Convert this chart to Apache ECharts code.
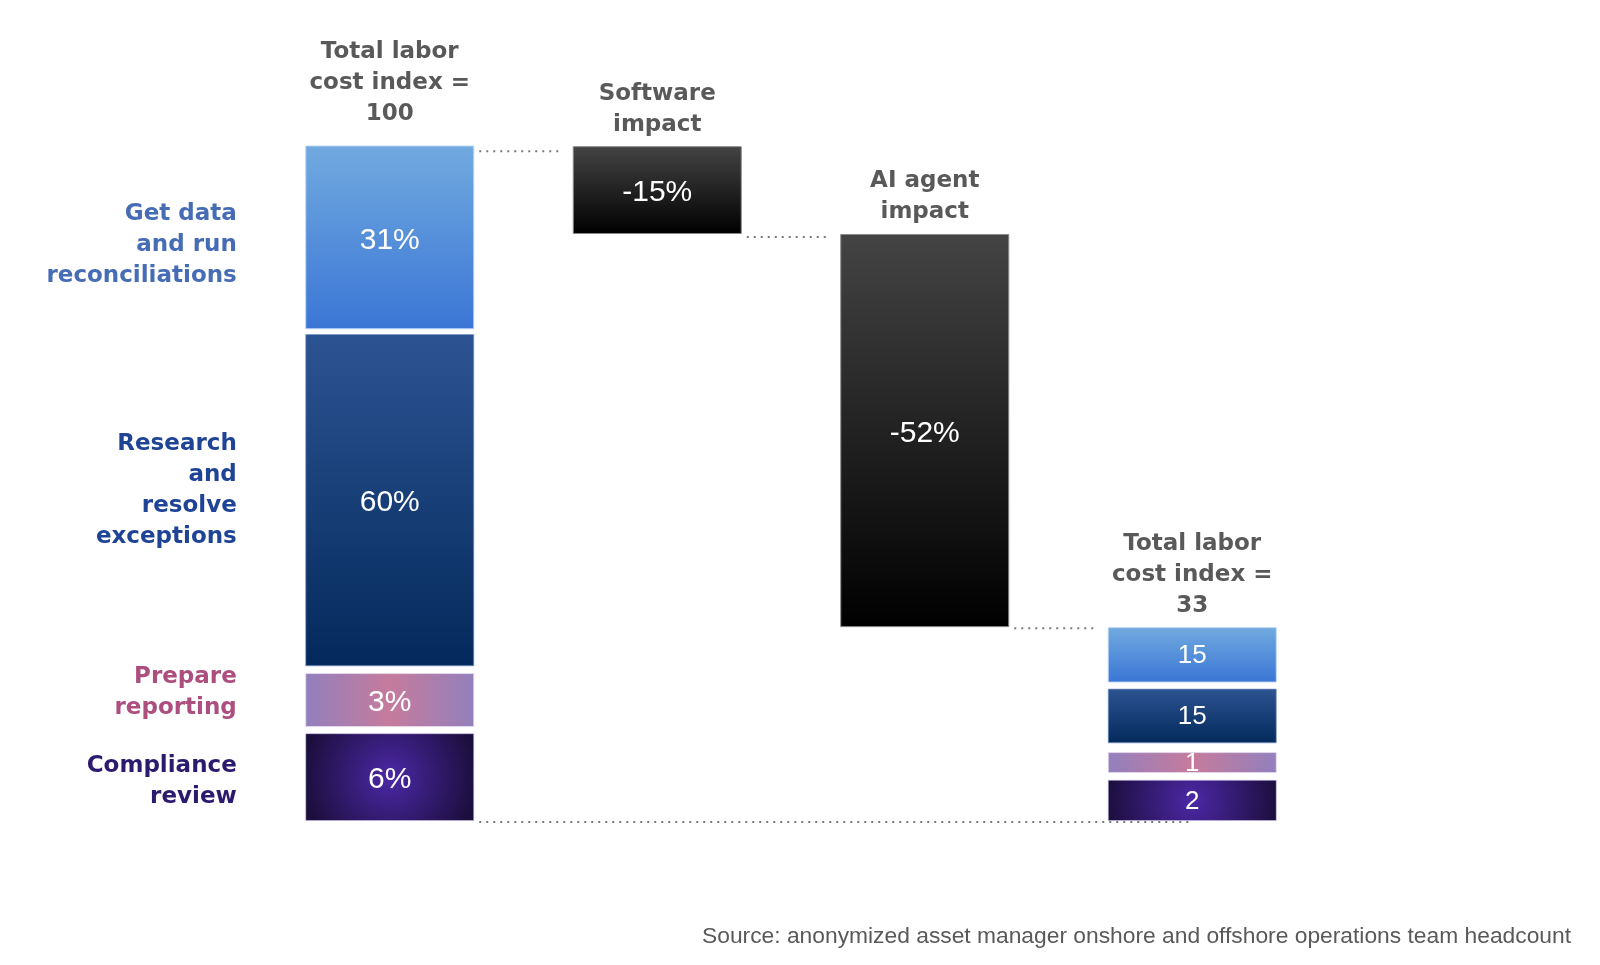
<!DOCTYPE html>
<html>
<head>
<meta charset="utf-8">
<title>Labor cost index waterfall</title>
<script src="https://cdn.jsdelivr.net/npm/echarts@6/dist/echarts.min.js"></script>
<style>
    html, body { margin: 0; padding: 0; background: #fff; }
    #chart { width: 1600px; height: 965px; }
</style>
</head>
<body>
<div id="chart"></div>
<script>
// column headers
var headers = ['Total labor\ncost index =\n100', 'Software\nimpact', 'AI agent\nimpact', 'Total labor\ncost index =\n33'];

// drawn extents, in index units (first column = 100)
var base       = [0, 86.9, 28.7, 0];
var compliance = [13.0, '-', '-', 6.1];
var gapA       = [0.9, '-', '-', 1.0];
var reporting  = [8.0, '-', '-', 3.1];
var gapB       = [1.0, '-', '-', 1.3];
var research   = [49.2, '-', '-', 8.1];
var gapC       = [0.7, '-', '-', 0.9];
var getData    = [27.2, '-', '-', 8.2];
var impact     = ['-', 13.0, 58.2, '-'];

// printed labels
var complianceLbl = ['6%', '', '', '2'];
var reportingLbl  = ['3%', '', '', '1'];
var researchLbl   = ['60%', '', '', '15'];
var getDataLbl    = ['31%', '', '', '15'];
var impactLbl     = ['', '-15%', '-52%', ''];

// left side segment names
var segNames = ['Compliance\nreview', 'Prepare\nreporting', 'Research\nand\nresolve\nexceptions', 'Get data\nand run\nreconciliations'];

// dotted connectors: [from column, to column, level]
var connectors = [[0, 1, 99.3], [1, 2, 86.6], [2, 3, 28.7], [0, 3, 0]];

var sourceText = 'Source: anonymized asset manager onshore and offshore operations team headcount';

var barW = 169;
var headFont = '"DejaVu Sans", Inter, sans-serif';
var numFont = '"Liberation Sans", Arial, sans-serif';

var chart = echarts.init(document.getElementById('chart'));

function vgrad(top, bottom) {
    return {type: 'linear', x: 0, y: 0, x2: 0, y2: 1, colorStops: [{offset: 0, color: top}, {offset: 1, color: bottom}]};
}
var colGetData = vgrad('#71aadf', '#3b76d6');
var colResearch = vgrad('#2d5492', '#03295c');
var colReporting = {type: 'linear', x: 0, y: 0, x2: 1, y2: 0, colorStops: [
    {offset: 0, color: '#9280bd'}, {offset: 0.5, color: '#c67b9c'}, {offset: 1, color: '#9280bd'}]};
function radial(r) {
    return {type: 'radial', x: 0.5, y: 0.5, r: r, colorStops: [
        {offset: 0, color: '#4c28a6'}, {offset: 1, color: '#1b0e3c'}]};
}
var colImpact = vgrad('#444444', '#000000');

function segSeries(name, vals, lbls, color, border) {
    return {
        name: name,
        type: 'bar',
        stack: 'total',
        barWidth: barW,
        data: vals.map(function (v, i) {
            var item = {value: v};
            if (i === 3) item.label = {fontSize: 26, offset: [0, 1]};
            if (name === 'compliance') item.itemStyle = {color: radial(i === 3 ? 2.1 : 1.0)};
            return item;
        }),
        itemStyle: {color: color, borderColor: border, borderWidth: 1},
        label: {
            show: true,
            position: 'inside',
            color: '#fff',
            fontFamily: numFont,
            fontSize: 30,
            offset: [0, 3],
            formatter: function (p) { return lbls[p.dataIndex]; }
        },
        emphasis: {disabled: true},
        z: 3
    };
}
function gapSeries(name, vals) {
    return {name: name, type: 'bar', stack: 'total', barWidth: barW, data: vals,
        itemStyle: {color: 'transparent'}, emphasis: {disabled: true}, silent: true};
}

// centers of the first column's segments for the side names
var segVals = [compliance[0], gapA[0], reporting[0], gapB[0], research[0], gapC[0], getData[0]];
var sideColors = ['#2c1a6e', '#ad4f7e', '#1f4496', '#456cb4'];
var sideShift = [4, -8, -10, 8];
var sideData = [];
var acc = 0;
for (var k = 0; k < segVals.length; k++) {
    if (k % 2 === 0) {
        sideData.push({value: [0, acc + segVals[k] / 2],
            label: {color: sideColors[k / 2], offset: [0, sideShift[k / 2]]}});
    }
    acc += segVals[k];
}

// column tops for the headers
var tops = [];
for (var j = 0; j < headers.length; j++) {
    var t = 0;
    [base, compliance, gapA, reporting, gapB, research, gapC, getData, impact].forEach(function (arr) {
        if (arr[j] !== '-') t += arr[j];
    });
    tops.push({value: [j, t], label: {distance: j === 0 ? 16 : 6}});
}

var option = {
    animation: false,
    grid: {left: 256, right: 274, top: 145.5, bottom: 144},
    xAxis: {type: 'category', data: headers, show: false},
    yAxis: {type: 'value', min: 0, max: 100, show: false},
    graphic: [{
        type: 'text',
        right: 29,
        top: 925,
        style: {text: sourceText, fill: '#595959', font: '22.8px ' + numFont}
    }],
    series: [
        gapSeries('base', base),
        segSeries('compliance', compliance, complianceLbl, null, 'rgba(200,190,230,0.6)'),
        gapSeries('gapA', gapA),
        segSeries('reporting', reporting, reportingLbl, colReporting, 'rgba(230,220,240,0.8)'),
        gapSeries('gapB', gapB),
        segSeries('research', research, researchLbl, colResearch, 'rgba(120,150,200,0.7)'),
        gapSeries('gapC', gapC),
        segSeries('getData', getData, getDataLbl, colGetData, 'rgba(190,215,245,0.9)'),
        segSeries('impact', impact, impactLbl, colImpact, '#8a8a8a'),
        {
            name: 'connectors',
            type: 'custom',
            z: 1,
            silent: true,
            clip: false,
            encode: {x: 0, y: 2},
            renderItem: function (params, api) {
                var a = api.coord([api.value(0), api.value(2)]);
                var b = api.coord([api.value(1), api.value(2)]);
                // the base line runs on under the last column
                var x2 = api.value(2) === 0 ? b[0] : b[0] - barW / 2 - 11;
                return {
                    type: 'line',
                    shape: {x1: a[0] + barW / 2 + 5, y1: a[1] + 1, x2: x2, y2: a[1] + 1},
                    style: {stroke: '#7a7a7a', lineWidth: 2, lineDash: [2, 5]}
                };
            },
            data: connectors
        },
        {
            name: 'sideNames',
            type: 'scatter',
            symbolSize: 0,
            silent: true,
            itemStyle: {opacity: 1},
            data: sideData,
            label: {
                show: true,
                position: 'left',
                distance: 153,
                align: 'right',
                opacity: 1,
                fontFamily: headFont,
                fontWeight: 'bold',
                fontSize: 23,
                lineHeight: 31,
                formatter: function (p) { return segNames[p.dataIndex]; }
            }
        },
        {
            name: 'headers',
            type: 'scatter',
            symbolSize: 0,
            silent: true,
            itemStyle: {opacity: 1},
            data: tops,
            label: {
                show: true,
                position: 'top',
                align: 'center',
                opacity: 1,
                color: '#595959',
                fontFamily: headFont,
                fontWeight: 'bold',
                fontSize: 23,
                lineHeight: 31,
                formatter: function (p) { return headers[p.dataIndex]; }
            }
        }
    ]
};

chart.setOption(option);

window.onresize = function () {
    chart.resize();
};
</script>
</body>
</html>
